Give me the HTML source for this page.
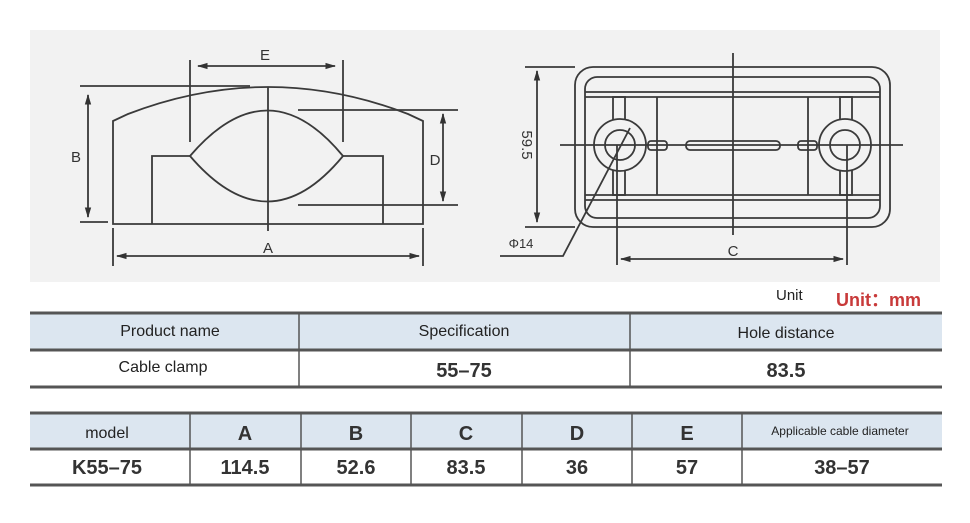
<!DOCTYPE html>
<html><head><meta charset="utf-8"><style>
html,body{margin:0;padding:0;background:#fff;}
svg{display:block;font-family:"Liberation Sans",sans-serif;}
</style></head><body>
<svg width="970" height="523" viewBox="0 0 970 523" xmlns="http://www.w3.org/2000/svg">
<defs>
<marker id="ar" viewBox="0 0 10 10" refX="9" refY="5" markerWidth="6" markerHeight="6" orient="auto-start-reverse"><path d="M0,2 L10,5 L0,8 z" fill="#333"/></marker>
</defs>
<rect x="30" y="30" width="910" height="252" fill="#f2f2f2"/>
<g stroke="#3a3a3a" stroke-width="1.8" fill="none">
<line x1="80" y1="86" x2="250" y2="86"/>
<path d="M113,224 L113,121 L128,114 Q268,60 408,114 L423,121 L423,224 Z"/>
<path d="M152,224 L152,156 L190,156 M343,156 L383,156 L383,224"/>
<path d="M190,156 Q268,65 343,156 Q268,247 190,156 Z"/>
<line x1="268" y1="87" x2="268" y2="231"/>
<line x1="190" y1="60" x2="190" y2="142"/>
<line x1="343" y1="60" x2="343" y2="142"/>
<line x1="198" y1="66" x2="335" y2="66" marker-start="url(#ar)" marker-end="url(#ar)"/>
<line x1="88" y1="95" x2="88" y2="217" marker-start="url(#ar)" marker-end="url(#ar)"/>
<line x1="80" y1="222" x2="108" y2="222"/>
<line x1="298" y1="110" x2="458" y2="110"/>
<line x1="298" y1="205" x2="458" y2="205"/>
<line x1="443" y1="114" x2="443" y2="201" marker-start="url(#ar)" marker-end="url(#ar)"/>
<line x1="113" y1="228" x2="113" y2="266"/>
<line x1="423" y1="228" x2="423" y2="266"/>
<line x1="117" y1="256" x2="419" y2="256" marker-start="url(#ar)" marker-end="url(#ar)"/>
<rect x="575" y="67" width="315" height="160" rx="18"/>
<rect x="585" y="77" width="295" height="141" rx="12"/>
<line x1="585" y1="92" x2="880" y2="92"/>
<line x1="585" y1="97" x2="880" y2="97"/>
<line x1="585" y1="195" x2="880" y2="195"/>
<line x1="585" y1="200" x2="880" y2="200"/>
<line x1="657" y1="97" x2="657" y2="195"/>
<line x1="808" y1="97" x2="808" y2="195"/>
<rect x="613" y="97" width="12" height="24"/>
<rect x="613" y="170" width="12" height="25"/>
<rect x="840" y="97" width="12" height="24"/>
<rect x="840" y="170" width="12" height="25"/>
<circle cx="620" cy="145" r="26" fill="#f2f2f2"/>
<circle cx="620" cy="145" r="15"/>
<circle cx="845" cy="145" r="26" fill="#f2f2f2"/>
<circle cx="845" cy="145" r="15"/>
<rect x="648" y="141" width="19" height="9" rx="3"/>
<rect x="798" y="141" width="19" height="9" rx="3"/>
<rect x="686" y="141" width="94" height="9" rx="4"/>
<line x1="560" y1="145" x2="903" y2="145"/>
<line x1="733" y1="53" x2="733" y2="235"/>
<line x1="525" y1="67" x2="575" y2="67"/>
<line x1="525" y1="227" x2="575" y2="227"/>
<line x1="537" y1="71" x2="537" y2="222" marker-start="url(#ar)" marker-end="url(#ar)"/>
<polyline points="630,128 563,256 500,256"/>
<line x1="617" y1="145" x2="617" y2="265"/>
<line x1="847" y1="145" x2="847" y2="265"/>
<line x1="621" y1="259" x2="843" y2="259" marker-start="url(#ar)" marker-end="url(#ar)"/>
</g>
<g fill="#333" font-size="15" text-anchor="middle">
<text x="265" y="60">E</text>
<text x="76" y="162">B</text>
<text x="435" y="165">D</text>
<text x="268" y="253">A</text>
<text x="733" y="256">C</text>
<text x="521" y="248" font-size="13">Φ14</text>
<text x="0" y="0" transform="translate(522,145) rotate(90)">59.5</text>
</g>
<text x="776" y="300" font-size="15" fill="#222">Unit</text>
<text x="836" y="306" font-size="18" fill="#c83a3a" font-weight="bold">Unit：mm</text>
<rect x="30" y="313" width="912" height="37" fill="#dce6f0"/>
<rect x="30" y="413" width="912" height="36" fill="#dce6f0"/>
<g stroke="#555" fill="none">
<line x1="30" y1="313" x2="942" y2="313" stroke-width="3"/>
<line x1="30" y1="350" x2="942" y2="350" stroke-width="3"/>
<line x1="30" y1="387" x2="942" y2="387" stroke-width="3"/>
<line x1="299" y1="313" x2="299" y2="387" stroke-width="1.5"/>
<line x1="630" y1="313" x2="630" y2="387" stroke-width="1.5"/>
<line x1="30" y1="413" x2="942" y2="413" stroke-width="3"/>
<line x1="30" y1="449" x2="942" y2="449" stroke-width="3"/>
<line x1="30" y1="485" x2="942" y2="485" stroke-width="3"/>
<g stroke-width="1.5">
<line x1="190" y1="413" x2="190" y2="485"/>
<line x1="301" y1="413" x2="301" y2="485"/>
<line x1="411" y1="413" x2="411" y2="485"/>
<line x1="522" y1="413" x2="522" y2="485"/>
<line x1="632" y1="413" x2="632" y2="485"/>
<line x1="742" y1="413" x2="742" y2="485"/>
</g>
</g>
<g fill="#222" text-anchor="middle" font-size="16">
<text x="170" y="336">Product name</text>
<text x="464" y="336">Specification</text>
<text x="786" y="338">Hole distance</text>
<text x="163" y="372">Cable clamp</text>
<text x="464" y="377" font-size="20" font-weight="bold" fill="#333">55–75</text>
<text x="786" y="377" font-size="20" font-weight="bold" fill="#333">83.5</text>
<text x="107" y="438">model</text>
<g font-size="20" font-weight="bold" fill="#333">
<text x="245" y="440">A</text>
<text x="356" y="440">B</text>
<text x="466" y="440">C</text>
<text x="577" y="440">D</text>
<text x="687" y="440">E</text>
<text x="107" y="474">K55–75</text>
<text x="245" y="474">114.5</text>
<text x="356" y="474">52.6</text>
<text x="466" y="474">83.5</text>
<text x="577" y="474">36</text>
<text x="687" y="474">57</text>
<text x="842" y="474">38–57</text>
</g>
<text x="840" y="435" font-size="12">Applicable cable diameter</text>
</g>
</svg>
</body></html>
